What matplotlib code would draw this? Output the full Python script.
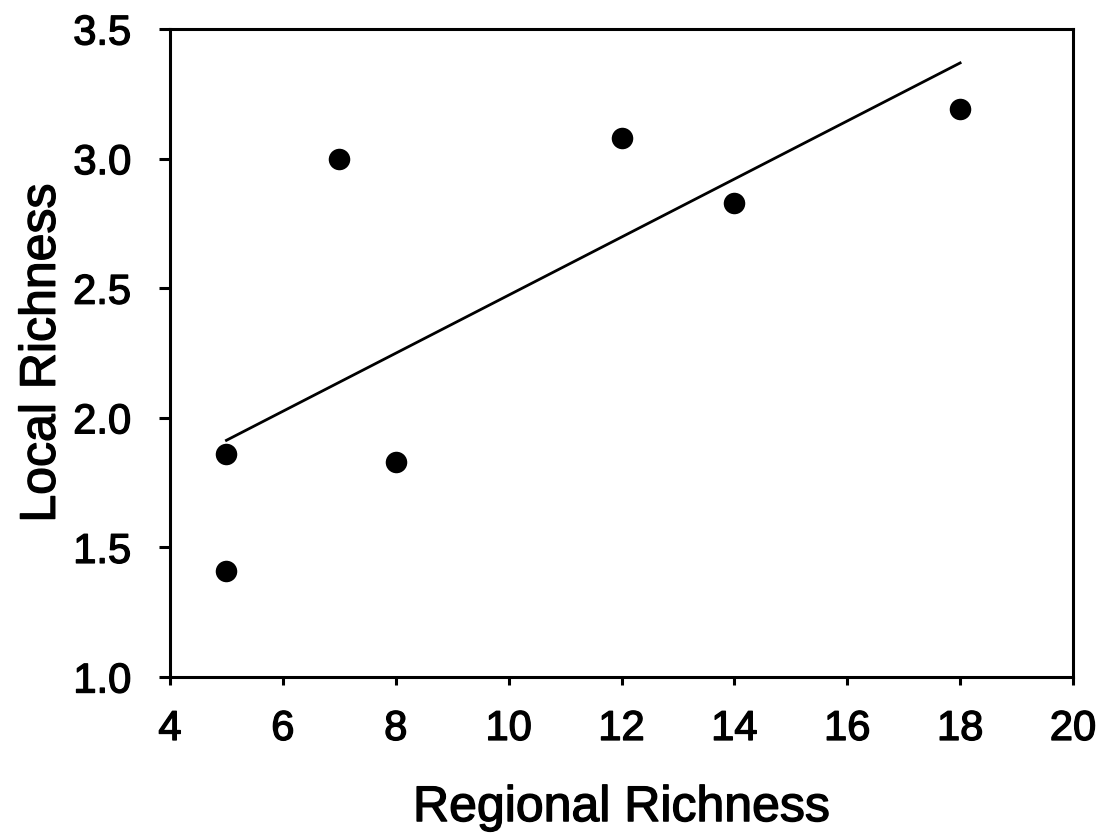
import numpy as np
import matplotlib
matplotlib.use("Agg")
import matplotlib.pyplot as plt
import matplotlib.patheffects as pe

plt.rcParams['font.family'] = ['Liberation Sans', 'DejaVu Sans']

regional = [5, 5, 7, 8, 12, 14, 18]
local = [1.86, 1.41, 3.00, 1.83, 3.08, 2.83, 3.19]
x_ticks = [4, 6, 8, 10, 12, 14, 16, 18, 20]
y_ticks = [1.0, 1.5, 2.0, 2.5, 3.0, 3.5]

fig = plt.figure(figsize=(11.03, 8.36), dpi=100)
ax = fig.add_axes([170/1103, 1 - 677/836, 903/1103, 648/836])

ax.scatter(regional, local, s=15.5**2, color='black', zorder=3, linewidths=0)
slope, intercept = np.polyfit(regional, local, 1)
xl = np.array([min(regional), max(regional)])
ax.plot(xl, slope * xl + intercept, color='black', lw=2.0)

ax.set_xlim(4, 20)
ax.set_ylim(1.0, 3.5)
ax.set_xticks(x_ticks)
ax.set_xticklabels([str(t) for t in x_ticks])
ax.set_yticks(y_ticks)
ax.set_yticklabels([f"{t:.1f}" for t in y_ticks])
ax.tick_params(axis='both', direction='out', width=2.2, labelsize=30)
ax.tick_params(axis='x', length=6, pad=17)
ax.tick_params(axis='y', length=8, pad=20)
ax.tick_params(top=False, right=False)
for s in ax.spines.values():
    s.set_linewidth(2.2)

stroke = [pe.withStroke(linewidth=1.0, foreground='black')]
for lab in ax.get_xticklabels() + ax.get_yticklabels():
    lab.set_path_effects(stroke)

ax.set_xlabel('Regional Richness', fontsize=36, labelpad=26, path_effects=stroke)
ax.set_ylabel('Local Richness', fontsize=36, labelpad=6, path_effects=stroke)

fig.savefig('out.png', dpi=100)
